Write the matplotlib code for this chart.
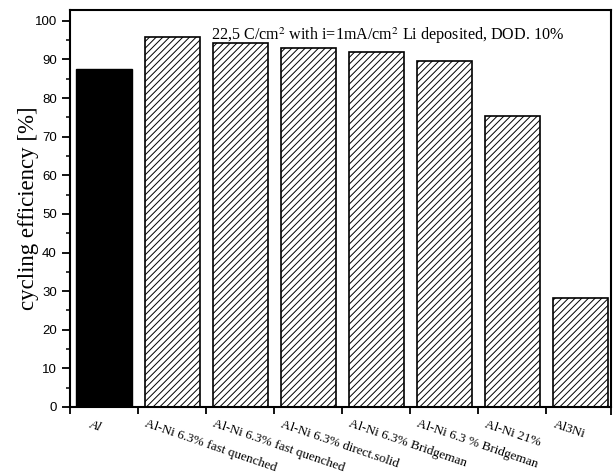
import matplotlib.pyplot as plt
import matplotlib.transforms as mtransforms
import numpy as np

# data
labels = ["Al", "Al-Ni 6.3% fast quenched", "Al-Ni 6.3% fast quenched",
          "Al-Ni 6.3% direct.solid", "Al-Ni 6.3% Bridgeman",
          "Al-Ni 6.3 % Bridgeman", "Al-Ni 21%", "Al3Ni"]
efficiency = [87.6, 95.7, 94.2, 92.9, 91.8, 89.5, 75.4, 28.2]

plt.rcParams['hatch.linewidth'] = 0.7

fig = plt.figure(figsize=(6.14, 4.76), dpi=100)
ax = fig.add_axes([0.114, 0.145, 0.881, 0.834])

x = np.arange(len(labels)) + 0.5
for i in range(len(labels)):
    if i == 0:
        ax.bar(x[i], efficiency[i], width=0.81, color='black', edgecolor='black')
    else:
        ax.bar(x[i], efficiency[i], width=0.81, facecolor='white',
               edgecolor='black', hatch='/////', linewidth=1.2)

ax.set_xlim(0, 7.95)
ax.set_ylim(0, 102.8)

# major ticks at category borders, labels on the centres
ax.set_xticks(np.arange(0, 8))
ax.set_xticklabels([])
ax.set_xticks(x, minor=True)
ax.set_xticklabels(labels, minor=True, rotation=-19, ha='left',
                   rotation_mode='anchor', family='Liberation Serif',
                   fontsize=9.5)
ax.tick_params(axis='x', which='minor', length=0, pad=8)
ax.tick_params(axis='x', which='major', direction='out', length=5, width=1.3)
shift = mtransforms.ScaledTranslation(-0.25, 0, fig.dpi_scale_trans)
for i, lab in enumerate(ax.get_xticklabels(minor=True)):
    if i == 0:
        lab.set_style('italic')
        lab.set_transform(lab.get_transform() + mtransforms.ScaledTranslation(-0.12, 0, fig.dpi_scale_trans))
    else:
        lab.set_transform(lab.get_transform() + shift)

ax.set_yticks(np.arange(0, 101, 10))
ax.set_yticks(np.arange(5, 101, 10), minor=True)
ax.tick_params(axis='y', which='major', direction='out', length=6, width=1.3,
               labelsize=9.5, right=True)
ax.tick_params(axis='y', which='minor', direction='out', length=3, width=1.1, right=True)
for t in ax.yaxis.get_major_ticks():
    t.tick2line.set_marker(3)
for t in ax.yaxis.get_minor_ticks():
    t.tick2line.set_marker(3)
for lab in ax.get_yticklabels():
    lab.set_family('Liberation Sans')

for s in ax.spines.values():
    s.set_linewidth(1.5)

ax.set_ylabel("cycling efficiency [%]", family='Liberation Serif', fontsize=16.5,
              labelpad=-3)
ax.text(0.587, 0.962, r"22,5 C/cm$^2$ with i=1mA/cm$^2$ Li deposited, DOD. 10%",
        transform=ax.transAxes, ha='center', va='top', family='Liberation Serif',
        fontsize=11.6, math_fontfamily='stix')

fig.savefig("out.png", dpi=100)
